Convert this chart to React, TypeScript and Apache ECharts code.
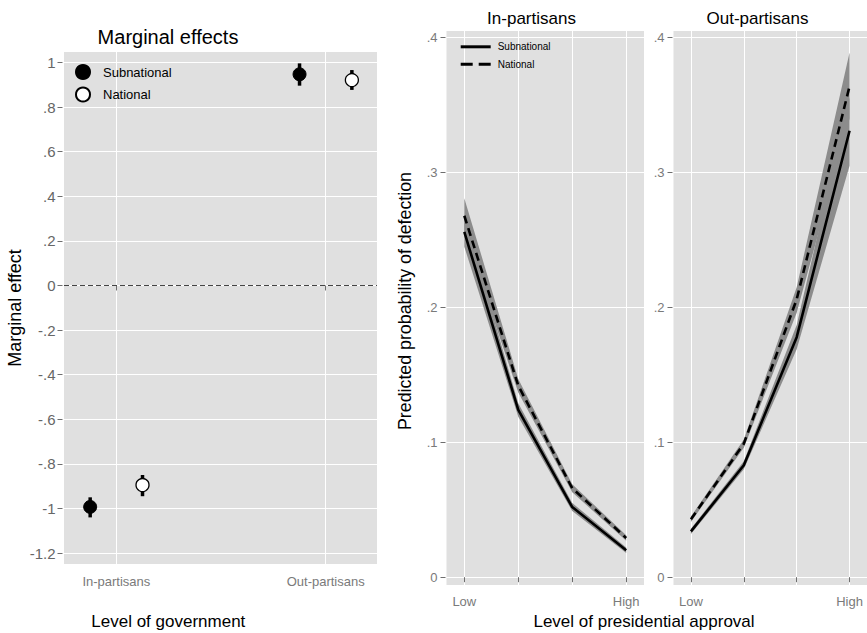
import React, { useEffect, useRef } from "react";
import * as echarts from "echarts";

const FONT = "'Liberation Sans', Arial, Helvetica, sans-serif";

// ---- Left panel: marginal effects ----
const govCategories = ["In-partisans", "Out-partisans"];
const govPositions = [1, 2];
const meTicks = [-1.2, -1, -0.8, -0.6, -0.4, -0.2, 0, 0.2, 0.4, 0.6, 0.8, 1];
const subX = [0.875, 1.875];
const natX = [1.125, 2.125];
const meSub = [-0.993, 0.947];
const meSubLo = [-1.04, 0.896];
const meSubHi = [-0.95, 0.996];
const meNat = [-0.895, 0.921];
const meNatLo = [-0.945, 0.877];
const meNatHi = [-0.85, 0.966];

// ---- Right panels: predicted probabilities ----
const approvalPositions = [1, 2, 3, 4];
const approvalLabels = ["Low", "", "", "High"];
const probTicks = [0, 0.1, 0.2, 0.3, 0.4];

const inSub = [0.256, 0.124, 0.052, 0.02];
const inSubLo = [0.245, 0.119, 0.049, 0.018];
const inSubHi = [0.267, 0.129, 0.055, 0.022];
const inNat = [0.268, 0.142, 0.066, 0.029];
const inNatLo = [0.256, 0.137, 0.063, 0.027];
const inNatHi = [0.281, 0.147, 0.069, 0.031];

const outSub = [0.034, 0.083, 0.178, 0.331];
const outSubLo = [0.032, 0.08, 0.169, 0.305];
const outSubHi = [0.036, 0.086, 0.187, 0.356];
const outNat = [0.043, 0.099, 0.206, 0.364];
const outNatLo = [0.041, 0.096, 0.196, 0.34];
const outNatHi = [0.045, 0.102, 0.215, 0.389];

const BG = "#e0e0e0";
const BAND = "#8c8c8c";
const TICKC = "#6e6e6e";

const ICON_SOLID = "path://M0,0h30v3h-30z";
const ICON_DASH = "path://M0,0h12v3h-12zM18,0h12v3h-12z";

function stataFmt(v: number): string {
  const r = Math.round(v * 10) / 10;
  if (r === 0) return "0";
  return String(r).replace(/^(-?)0\./, "$1.");
}

function pairs(xs: number[], ys: number[]) {
  return xs.map((x, i) => [x, ys[i]]);
}

function bandSeries(idx: number, lo: number[], hi: number[]) {
  return {
    type: "custom",
    xAxisIndex: idx,
    yAxisIndex: idx,
    silent: true,
    encode: { x: 0, y: [1, 2] },
    data: approvalPositions.map((x, i) => [x, lo[i], hi[i]]),
    renderItem: (params: any, api: any) => {
      if (params.dataIndex !== 0) return null;
      const pts: number[][] = [];
      for (let i = 0; i < approvalPositions.length; i++) {
        pts.push(api.coord([approvalPositions[i], hi[i]]));
      }
      for (let i = approvalPositions.length - 1; i >= 0; i--) {
        pts.push(api.coord([approvalPositions[i], lo[i]]));
      }
      return { type: "polygon", shape: { points: pts }, style: { fill: BAND } };
    },
    z: 1,
  };
}

function lineSeries(name: string, idx: number, ys: number[], dashed: boolean) {
  return {
    type: "line",
    name,
    xAxisIndex: idx,
    yAxisIndex: idx,
    symbol: "none",
    lineStyle: { color: "#000", width: 2.6, type: dashed ? [8, 5] : "solid" },
    itemStyle: { color: "#000" },
    data: pairs(approvalPositions, ys),
    z: 3,
  };
}

function errSeries(xs: number[], lo: number[], hi: number[]) {
  return {
    type: "custom",
    xAxisIndex: 0,
    yAxisIndex: 0,
    silent: true,
    encode: { x: 0, y: [1, 2] },
    data: xs.map((x, i) => [x, lo[i], hi[i]]),
    renderItem: (params: any, api: any) => {
      const p1 = api.coord([api.value(0), api.value(1)]);
      const p2 = api.coord([api.value(0), api.value(2)]);
      return {
        type: "line",
        shape: { x1: p1[0], y1: p1[1], x2: p2[0], y2: p2[1] },
        style: { stroke: "#000", lineWidth: 3.5 },
      };
    },
    z: 2,
  };
}

function probXAxis(idx: number) {
  return {
    type: "value",
    gridIndex: idx,
    min: 0.67,
    max: 4.33,
    offset: 1,
    axisLine: { show: false },
    axisTick: { show: true, length: 5, customValues: approvalPositions, lineStyle: { color: TICKC } },
    axisLabel: {
      customValues: approvalPositions,
      formatter: (v: number) => approvalLabels[Math.round(v) - 1],
      fontSize: 13,
      color: "#7a7a7a",
      margin: 9,
      fontFamily: FONT,
    },
    splitLine: { show: true, lineStyle: { color: "#fff", width: 1 } },
  };
}

function probYAxis(idx: number) {
  return {
    type: "value",
    gridIndex: idx,
    min: -0.0058,
    max: 0.405,
    offset: 1,
    axisLine: { show: false },
    axisTick: { show: true, length: 5, customValues: probTicks, lineStyle: { color: TICKC } },
    axisLabel: {
      customValues: probTicks,
      formatter: (v: number) => stataFmt(v),
      fontSize: 13,
      color: "#7a7a7a",
      margin: 8,
      fontFamily: FONT,
    },
    splitLine: { show: true, lineStyle: { color: "#fff", width: 1 } },
  };
}

export default function App() {
  const ref = useRef<HTMLDivElement>(null);
  useEffect(() => {
    if (!ref.current) return;
    const chart = echarts.init(ref.current, undefined, { renderer: "svg" });
    const option: any = {
      animation: false,
      textStyle: { fontFamily: FONT },
      grid: [
        { left: 64, top: 52, width: 313, height: 512, show: true, backgroundColor: BG, borderWidth: 0 },
        { left: 446.5, top: 31, width: 197.5, height: 554, show: true, backgroundColor: BG, borderWidth: 0 },
        { left: 673.5, top: 31, width: 197, height: 554, show: true, backgroundColor: BG, borderWidth: 0 },
      ],
      xAxis: [
        {
          type: "value",
          gridIndex: 0,
          min: 0.75,
          max: 2.245,
          offset: 1.5,
          axisLine: { show: false },
          axisTick: { show: true, length: 5, customValues: govPositions, lineStyle: { color: TICKC } },
          axisLabel: {
            customValues: govPositions,
            formatter: (v: number) => govCategories[Math.round(v) - 1],
            fontSize: 13,
            color: "#7a7a7a",
            margin: 9.5,
            fontFamily: FONT,
          },
          splitLine: { show: true, lineStyle: { color: "#fff", width: 1 } },
        },
        probXAxis(1),
        probXAxis(2),
      ],
      yAxis: [
        {
          type: "value",
          gridIndex: 0,
          min: -1.249,
          max: 1.047,
          offset: 1.5,
          axisLine: { show: false },
          axisTick: { show: true, length: 5, customValues: meTicks, lineStyle: { color: TICKC } },
          axisLabel: {
            customValues: meTicks,
            formatter: (v: number) => stataFmt(v),
            fontSize: 15,
            color: "#666",
            margin: 7,
            fontFamily: FONT,
          },
          splitLine: { show: true, lineStyle: { color: "#fff", width: 1 } },
        },
        probYAxis(1),
        probYAxis(2),
      ],
      legend: [
        {
          data: ["Subnational", "National"],
          left: 70,
          top: 59,
          orient: "vertical",
          itemWidth: 26,
          itemHeight: 14,
          itemGap: 6.5,
          selectedMode: false,
          textStyle: { fontSize: 13, color: "#000", fontFamily: FONT, padding: [0, 0, 0, 2] },
        },
        {
          data: [
            { name: "Subnational line", icon: ICON_SOLID },
            { name: "National line", icon: ICON_DASH },
          ],
          formatter: (n: string) => n.replace(" line", ""),
          left: 455.7,
          top: 36.8,
          orient: "vertical",
          itemWidth: 30,
          itemHeight: 3,
          itemGap: 7.5,
          selectedMode: false,
          textStyle: { fontSize: 10, color: "#000", fontFamily: FONT, padding: [0, 0, 0, 2] },
        },
      ],
      series: [
        errSeries(subX, meSubLo, meSubHi),
        errSeries(natX, meNatLo, meNatHi),
        {
          type: "scatter",
          name: "Subnational",
          xAxisIndex: 0,
          yAxisIndex: 0,
          symbol: "circle",
          symbolSize: 13,
          itemStyle: { color: "#000", borderColor: "#000", borderWidth: 1, opacity: 1 },
          data: pairs(subX, meSub),
          z: 3,
          markLine: {
            silent: true,
            symbol: ["none", "none"],
            label: { show: false },
            lineStyle: { color: "#444", type: [5, 3], width: 1 },
            data: [{ yAxis: 0 }],
          },
        },
        {
          type: "scatter",
          name: "National",
          xAxisIndex: 0,
          yAxisIndex: 0,
          symbol: "circle",
          symbolSize: 13,
          itemStyle: { color: "#fff", borderColor: "#000", borderWidth: 1.3, opacity: 1 },
          data: pairs(natX, meNat),
          z: 3,
        },
        bandSeries(1, inSubLo, inSubHi),
        bandSeries(1, inNatLo, inNatHi),
        bandSeries(2, outSubLo, outSubHi),
        bandSeries(2, outNatLo, outNatHi),
        lineSeries("Subnational line", 1, inSub, false),
        lineSeries("National line", 1, inNat, true),
        lineSeries("Subnational line", 2, outSub, false),
        lineSeries("National line", 2, outNat, true),
      ],
      graphic: [
        {
          type: "text",
          x: 168,
          y: 37,
          style: { text: "Marginal effects", fontSize: 20, fontFamily: FONT, fill: "#000", align: "center", verticalAlign: "middle" },
        },
        {
          type: "text",
          x: 168.3,
          y: 621.5,
          style: { text: "Level of government", fontSize: 17, fontFamily: FONT, fill: "#000", align: "center", verticalAlign: "middle" },
        },
        {
          type: "text",
          x: 15,
          y: 308,
          rotation: Math.PI / 2,
          style: { text: "Marginal effect", fontSize: 18, fontFamily: FONT, fill: "#000", align: "center", verticalAlign: "middle" },
        },
        {
          type: "text",
          x: 531.5,
          y: 18.5,
          style: { text: "In-partisans", fontSize: 17, fontFamily: FONT, fill: "#000", align: "center", verticalAlign: "middle" },
        },
        {
          type: "text",
          x: 757.5,
          y: 18.5,
          style: { text: "Out-partisans", fontSize: 17, fontFamily: FONT, fill: "#000", align: "center", verticalAlign: "middle" },
        },
        {
          type: "text",
          x: 644,
          y: 621.5,
          style: { text: "Level of presidential approval", fontSize: 17, fontFamily: FONT, fill: "#000", align: "center", verticalAlign: "middle" },
        },
        {
          type: "text",
          x: 405,
          y: 301,
          rotation: Math.PI / 2,
          style: { text: "Predicted probability of defection", fontSize: 17.8, fontFamily: FONT, fill: "#000", align: "center", verticalAlign: "middle" },
        },
      ],
    };
    chart.setOption(option);
    return () => chart.dispose();
  }, []);
  return (
    <div
      ref={ref}
      style={{ position: "absolute", left: 0, top: 0, width: 867, height: 633, background: "#fff" }}
    />
  );
}
